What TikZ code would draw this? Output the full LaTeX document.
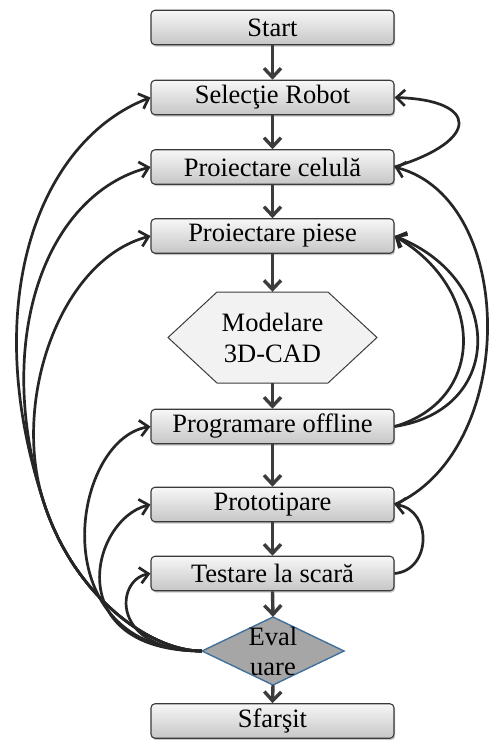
\documentclass[tikz,border=0pt]{standalone}
\usepackage{fontspec}
\setmainfont{Liberation Serif}
\usetikzlibrary{arrows.meta,shadows}

\definecolor{boxtop}{HTML}{F7F7F7}
\definecolor{boxbot}{HTML}{C6C6C6}
\definecolor{boxline}{HTML}{3A3A3A}
\definecolor{flowline}{HTML}{3C3C3C}
\definecolor{backline}{HTML}{262626}
\definecolor{hexfill}{HTML}{F2F2F2}
\definecolor{decfill}{HTML}{A6A6A6}
\definecolor{decline}{HTML}{41719C}

\begin{document}
\begin{tikzpicture}[x=1pt,y=-1pt,
  label font/.style={font=\fontsize{26.5}{31}\selectfont},
  stepbox/.style={rectangle, rounded corners=4pt, draw=boxline, line width=1.1pt,
    top color=boxtop, bottom color=boxbot, minimum width=243pt, minimum height=34.5pt,
    inner sep=0pt, label font,
    drop shadow={shadow xshift=1.2pt, shadow yshift=-1.8pt, opacity=0.3, fill=black!70}},
  textonly/.style={inner sep=0pt, align=center, label font},
  flow/.style={draw=flowline, line width=3.4pt, -{Straight Barb[length=9pt,width=17pt]}},
  back/.style={draw=backline, line width=2.7pt, -{Straight Barb[length=8.5pt,width=16pt]}}
]
\useasboundingbox[fill=white] (0,0) rectangle (491,740);

% process boxes
\node[stepbox] (start) at (272.5,27.5)  {Start};
\node[stepbox] (sel)   at (272.5,97.5)  {Selecţie Robot};
\node[stepbox] (cel)   at (272.5,167)   {Proiectare celulă};
\node[stepbox] (pie)   at (272.5,236)   {Proiectare piese};

% hexagon for the CAD step
\filldraw[fill=hexfill, draw=flowline, line width=1pt]
  (168,337.5) -- (217,292) -- (328,292) -- (377,337.5) -- (328,383) -- (217,383) -- cycle;
\node[textonly, minimum width=208pt, minimum height=91pt, font=\fontsize{26.5}{31}\selectfont]
  (mod) at (272.5,337.5) {Modelare\\3D-CAD};

\node[stepbox] (prog)  at (272.5,426.5) {Programare offline};
\node[stepbox] (proto) at (272.5,504.5) {Prototipare};
\node[stepbox] (test)  at (272.5,573.5) {Testare la scară};

% decision diamond
\filldraw[fill=decfill, draw=decline, line width=1.4pt]
  (202,651) -- (273,617) -- (344,651) -- (273,685) -- cycle;
\node[textonly, minimum width=142pt, minimum height=68pt, font=\fontsize{26.5}{30}\selectfont]
  (ev) at (273,651) {Eval\\uare};

\node[stepbox] (end)   at (272.5,721)   {Sfarşit};

% main flow
\draw[flow] (start) -- (sel);
\draw[flow] (sel) -- (cel);
\draw[flow] (cel) -- (pie);
\draw[flow] (pie) -- (mod);
\draw[flow] (mod) -- (prog);
\draw[flow] (prog) -- (proto);
\draw[flow] (proto) -- (test);
\draw[flow] (test.south) -- (ev.north);
\draw[flow] (ev.south) -- (end.north);

% feedback from the evaluation (left side)
\draw[back] (ev.west) .. controls (150,651) and (73,596) .. (43,500)
  .. controls (-22,300) and (40,140) .. (sel.west);
\draw[back] (ev.west) .. controls (150,651) and (73,596) .. (43,500)
  .. controls (-7,340) and (45,195) .. (cel.west);
\draw[back] (ev.west) .. controls (150,651) and (73,596) .. (43,500)
  .. controls (12,400) and (60,260) .. (pie.west);
\draw[back] (ev.west) .. controls (40,651) and (70,440) .. (prog.west);
\draw[back] (ev.west) .. controls (60,651) and (90,520) .. (proto.west);
\draw[back] (ev.west) .. controls (110,651) and (115,580) .. (test.west);

% feedback loops (right side)
\draw[back] (cel.east) .. controls (482,140) and (478,100) .. (sel.east);
\draw[back] (proto.east) .. controls (518,450) and (518,200) .. (cel.east);
\draw[back] (prog.east) .. controls (486,400) and (486,290) .. (pie.east);
\draw[back] (prog.east) .. controls (505,410) and (505,280) .. (pie.east);
\draw[back] (test.east) .. controls (432,570) and (432,510) .. (proto.east);
\end{tikzpicture}
\end{document}
